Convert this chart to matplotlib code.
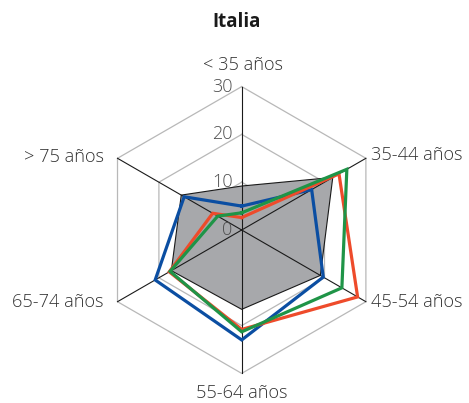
import numpy as np
import matplotlib
matplotlib.use("Agg")
import matplotlib.pyplot as plt

title = "Italia"
categories = ["< 35 años", "35-44 años", "45-54 años", "55-64 años", "65-74 años", "> 75 años"]
gray_vals = [9.2, 22.0, 19.0, 16.6, 17.0, 14.6]
blue_vals = [5.0, 16.9, 19.7, 23.0, 20.9, 13.9]
red_vals = [2.6, 23.5, 28.0, 20.8, 17.5, 7.0]
green_vals = [3.6, 25.4, 24.2, 21.3, 17.3, 5.8]
ticks = [0, 10, 20, 30]
rmax = 30

plt.rcParams['font.family'] = ['Open Sans', 'DejaVu Sans']

W, H = 469, 403
fig = plt.figure(figsize=(W / 100, H / 100), dpi=100)
ax = fig.add_axes([0, 0, 1, 1])
ax.set_axis_off()

# pixel geometry: center and scale
cx, cy = 241.7, 230.0  # from top-left
ppu = 4.78  # pixels per unit
ax.set_xlim(-cx / ppu, (W - cx) / ppu)
ax.set_ylim(-(H - cy) / ppu, cy / ppu)

n = len(categories)
angles = np.deg2rad(90 - 60 * np.arange(n))


def xy(vals):
    v = np.asarray(vals, dtype=float)
    x = v * np.cos(angles)
    y = v * np.sin(angles)
    return np.append(x, x[0]), np.append(y, y[0])


# grid hexagons
for t in ticks[1:]:
    gx, gy = xy([t] * n)
    ax.plot(gx, gy, color='#b8b8b8', lw=0.9, zorder=1)

# gray filled series
gx, gy = xy(gray_vals)
ax.fill(gx, gy, facecolor='#a7a8ab', edgecolor='#1a1a1a', lw=0.8, zorder=2)

# spokes
for a in angles:
    ax.plot([0, rmax * np.cos(a)], [0, rmax * np.sin(a)], color='#1a1a1a', lw=0.8, zorder=3)

# colored series
for vals, col in [(blue_vals, '#0b4ea2'), (red_vals, '#ee4b2b'), (green_vals, '#1f9447')]:
    px, py = xy(vals)
    ax.plot(px, py, color=col, lw=2.3, zorder=4, solid_joinstyle='miter')

# tick labels
for t in ticks:
    ax.annotate(str(t), xy=(0, t), xytext=(-9, 0), textcoords='offset pixels',
                ha='right', va='center', fontsize=13, fontweight='light',
                color='#4d4d4d', zorder=5)

# category labels
offsets = [((1.5, 22), 'center', 'center'),
           ((5, 3), 'left', 'center'),
           ((5, 0), 'left', 'center'),
           ((0, -20), 'center', 'center'),
           ((-14, 0), 'right', 'center'),
           ((-14, 1), 'right', 'center')]
for lab, a, (off, ha, va) in zip(categories, angles, offsets):
    ax.annotate(lab, xy=(rmax * np.cos(a), rmax * np.sin(a)), xytext=off,
                textcoords='offset pixels', ha=ha, va=va, fontsize=13.1,
                fontweight='light', color='#333333', zorder=5)

fig.text(237 / W, 1 - 22 / H, title, ha='center', va='center', fontsize=13.5,
         fontweight='bold', color='#1a1a1a')

fig.savefig('out.png', dpi=100)
